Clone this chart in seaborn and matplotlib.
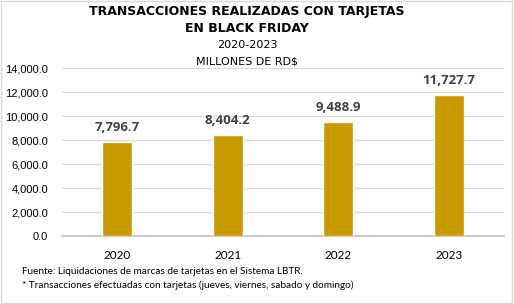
"""Black Friday card transactions bar chart, 2020-2023."""

import matplotlib

matplotlib.use("Agg")
import matplotlib.pyplot as plt
import pandas as pd
import seaborn as sns
from matplotlib.patches import Rectangle
from matplotlib.ticker import FuncFormatter, MultipleLocator

YEARS = ["2020", "2021", "2022", "2023"]
VALUES = [7796.7, 8404.2, 9488.9, 11727.7]

TITLE_LINES = [
    "TRANSACCIONES REALIZADAS CON TARJETAS",
    "EN BLACK FRIDAY",
]
SUBTITLE_LINES = ["2020-2023", "MILLONES DE RD$"]
FOOTNOTES = [
    "Fuente: Liquidaciones de marcas de tarjetas en el Sistema LBTR.",
    "* Transacciones efectuadas con tarjetas (jueves, viernes, sabado y domingo)",
]

BAR_COLOR = "#C99A00"
TEXT_COLOR = "#404040"


def main() -> None:
    sns.set_style("white")
    plt.rcParams["font.family"] = ["Liberation Sans", "DejaVu Sans"]

    df = pd.DataFrame({"year": YEARS, "value": VALUES})

    fig = plt.figure(figsize=(5.14, 3.04), dpi=100)
    ax = fig.add_axes([62 / 514, 1 - 236 / 304, 442 / 514, 168 / 304])

    sns.barplot(data=df, x="year", y="value", color=BAR_COLOR, width=0.27,
                saturation=1, ax=ax, zorder=3)

    ax.set_ylim(0, 14000)
    ax.set_xlim(-0.5, 3.5)
    ax.yaxis.set_major_locator(MultipleLocator(2000))
    ax.yaxis.set_major_formatter(FuncFormatter(lambda v, _: f"{v:,.1f}"))
    ax.grid(axis="y", color="#D9D9D9", linewidth=0.8, zorder=0)
    ax.set_xlabel("")
    ax.set_ylabel("")
    for side in ["top", "right", "left"]:
        ax.spines[side].set_visible(False)
    ax.spines["bottom"].set_color("#BFBFBF")
    ax.spines["bottom"].set_linewidth(1.2)
    ax.tick_params(axis="both", length=0, labelsize=8, colors="#000000")
    ax.tick_params(axis="x", pad=10)
    ax.tick_params(axis="y", pad=10)
    for label in ax.get_xticklabels():
        label.set_fontfamily(["Lato", "DejaVu Sans"])
        label.set_fontsize(8.5)

    for i, v in enumerate(VALUES):
        ax.annotate(f"{v:,.1f}", (i, v), xytext=(0, 6), textcoords="offset points",
                    ha="center", va="bottom", fontsize=9.5, fontweight="bold",
                    color=TEXT_COLOR, family=["Open Sans", "DejaVu Sans"])

    title_y = [12, 28]
    for text, y in zip(TITLE_LINES, title_y):
        fig.text(247 / 514, 1 - y / 304, text, ha="center", va="center",
                 fontsize=9, fontweight="bold", color="#000000",
                 family=["DejaVu Sans"])
    sub_y = [45, 62]
    for text, y in zip(SUBTITLE_LINES, sub_y):
        fig.text(247 / 514, 1 - y / 304, text, ha="center", va="center",
                 fontsize=8, color="#000000", family=["DejaVu Sans"])

    foot_y = [271, 285]
    for text, y in zip(FOOTNOTES, foot_y):
        fig.text(22 / 514, 1 - y / 304, text, ha="left", va="center",
                 fontsize=7.2, color="#000000", family=["Lato", "DejaVu Sans"])

    fig.patches.append(Rectangle((0.002, 0.003), 0.995, 0.993, transform=fig.transFigure,
                                 fill=False, edgecolor="#D9D9D9", linewidth=1))

    fig.savefig("out.png", dpi=100)
    plt.close(fig)


if __name__ == "__main__":
    main()
